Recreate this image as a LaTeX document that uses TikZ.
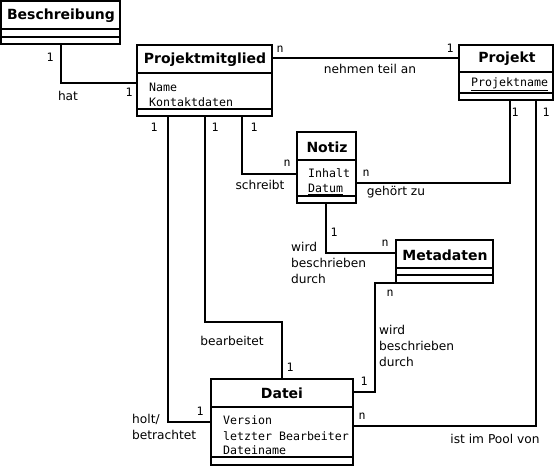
\documentclass[tikz,border=0pt]{standalone}
\usepackage{fontspec}
\setmainfont{DejaVu Sans}
\setmonofont{DejaVu Sans Mono}
\usetikzlibrary{calc}
\begin{document}
\begin{tikzpicture}[x=1pt,y=-1pt,line width=2.4pt,
  cls/.style={draw, rectangle, anchor=north west, inner sep=0pt, outer sep=0pt},
  ttl/.style={font=\fontsize{14}{16}\selectfont\bfseries, inner sep=0pt},
  attr/.style={font=\fontsize{11.6}{13}\selectfont\ttfamily, anchor=west, inner sep=0pt},
  card/.style={font=\fontsize{11.6}{13}\selectfont\ttfamily, inner sep=0pt},
  lbl/.style={font=\fontsize{12.2}{16}\selectfont, inner sep=0pt},
  mlbl/.style={font=\fontsize{12.2}{16}\selectfont, inner sep=0pt, align=left, anchor=north west}]
\useasboundingbox (0,0) rectangle (554,466);
% boxes
\node[cls, minimum width=119pt, minimum height=43pt] (besch) at (1,1) {};
\draw (1,29) -- (120,29); \draw (1,37) -- (120,37);
\node[ttl] (beschT) at (61,16) {Beschreibung};

\node[cls, minimum width=135pt, minimum height=71pt] (pm) at (137,45) {};
\draw (137,73) -- (272,73); \draw (137,109) -- (272,109);
\node[ttl] (pmT) at (205,60) {Projektmitglied};
\node[attr] (pmA1) at (148,87) {Name};
\node[attr] (pmA2) at (148,102) {Kontaktdaten};

\node[cls, minimum width=94pt, minimum height=55pt] (proj) at (459,45) {};
\draw (459,72) -- (553,72); \draw (459,93) -- (553,93);
\node[ttl] (projT) at (507,59) {Projekt};
\node[attr] (projA1) at (470,84) {\underline{Projektname}};

\node[cls, minimum width=59pt, minimum height=71pt] (notiz) at (297,132) {};
\draw (297,160) -- (356,160); \draw (297,196) -- (356,196);
\node[ttl] (notizT) at (327,147) {Notiz};
\node[attr] (notizA1) at (307,173) {Inhalt};
\node[attr] (notizA2) at (307,189) {\underline{Datum}};

\node[cls, minimum width=97pt, minimum height=43pt] (meta) at (396,240) {};
\draw (396,268) -- (493,268); \draw (396,275) -- (493,275);
\node[ttl] (metaT) at (445,255) {Metadaten};

\node[cls, minimum width=142pt, minimum height=86pt] (datei) at (211,379) {};
\draw (211,407) -- (353,407); \draw (211,457) -- (353,457);
\node[ttl] (dateiT) at (282,393) {Datei};
\node[attr] (dateiA1) at (222,420) {Version};
\node[attr] (dateiA2) at (222,436) {letzter Bearbeiter};
\node[attr] (dateiA3) at (222,451) {\underline{Dateiname}};

% connectors
\draw ($(besch.south west)+(60,0)$) |- ($(pm.north west)+(0,38)$);
\draw ($(pm.north east)+(0,13)$) -- ($(proj.north west)+(0,13)$);
\draw ($(pm.south west)+(105,0)$) |- ($(notiz.north west)+(0,42)$);
\draw ($(pm.south west)+(68,0)$) |- (282,322) -- ($(datei.north west)+(71,0)$);
\draw ($(pm.south west)+(31,0)$) |- ($(datei.north west)+(0,43)$);
\draw ($(notiz.north east)+(0,51)$) -| ($(proj.south west)+(51,0)$);
\draw ($(datei.north east)+(0,47)$) -| ($(proj.south west)+(77,0)$);
\draw ($(notiz.south west)+(29,0)$) |- ($(meta.north west)+(0,13)$);
\draw (meta.south west) -- (375,283) |- ($(datei.north east)+(0,13)$);

% labels
\node[card] (c1) at (50,57) {1};
\node[lbl] (l1) at (68,96) {hat};
\node[card] (c2) at (129,92) {1};
\node[card] (c3) at (280,49) {n};
\node[card] (c4) at (450,48) {1};
\node[lbl] (l2) at (370,69) {nehmen teil an};
\node[card] (c5) at (515,112) {1};
\node[card] (c6) at (546,112) {1};
\node[card] (c7) at (154,127) {1};
\node[card] (c8) at (215,127) {1};
\node[card] (c9) at (254,127) {1};
\node[card] (c10) at (287,163) {n};
\node[lbl] (l3) at (260,185) {schreibt};
\node[card] (c11) at (366,173) {n};
\node[lbl] (l4) at (396,192) {gehört zu};
\node[card] (c12) at (334,232) {1};
\node[card] (c13) at (385,243) {n};
\node[mlbl] (l5) at (290,241) {wird\\beschrieben\\durch};
\node[card] (c14) at (390,293) {n};
\node[mlbl] (l6) at (378,324) {wird\\beschrieben\\durch};
\node[card] (c15) at (364,381) {1};
\node[card] (c16) at (362,416) {n};
\node[lbl] (l7) at (495,439) {ist im Pool von};
\node[lbl] (l8) at (232,341) {bearbeitet};
\node[card] (c17) at (290,367) {1};
\node[card] (c18) at (200,411) {1};
\node[mlbl] (l9) at (131,413) {holt/\\betrachtet};
\end{tikzpicture}
\end{document}
